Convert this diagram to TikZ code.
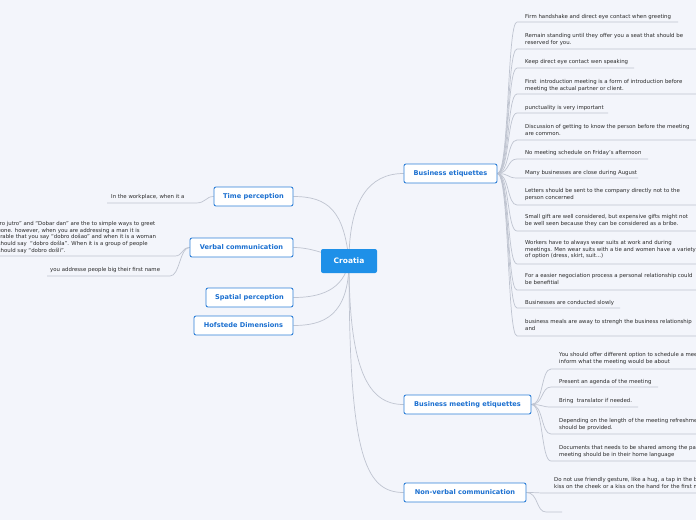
\documentclass[tikz,border=0pt]{standalone}
\usepackage{fontspec}
\setmainfont{DejaVu Sans}
\usetikzlibrary{backgrounds}
\definecolor{bg}{HTML}{F3F5FB}
\definecolor{bblue}{HTML}{2F80D8}
\definecolor{tblue}{HTML}{1A6FD0}
\definecolor{cblue}{HTML}{1E90E8}
\definecolor{lgray}{HTML}{BFC4D0}
\definecolor{ltxt}{HTML}{2A2A2A}
\tikzset{
 branch/.style={draw=bblue, line width=0.9pt, fill=white, rounded corners=2pt, text=tblue, font=\fontsize{6.6}{8}\selectfont\bfseries, minimum height=19pt, inner xsep=6pt},
 center/.style={fill=cblue, rounded corners=2pt, text=white, font=\fontsize{7.5}{9}\selectfont\bfseries, minimum width=56pt, minimum height=24pt},
 leaf/.style={inner sep=0pt, text=ltxt, font=\fontsize{5.4}{6.8}\selectfont, align=left},
 conn/.style={draw=lgray, line width=0.7pt},
}
\newcommand\leafR[7]{% name parent sx uy ex texttop text
 \node[leaf, anchor=north west] (#1) at (#3+8,#6) {#7};
 \coordinate (#1s) at (#3,#4); \coordinate (#1e) at (#5,#4);
 \begin{pgfonlayer}{background}
 \draw[conn] (#2.east) .. controls +(12,0) and +(-10,0) .. (#1s) -- (#1e);
 \end{pgfonlayer}}
\begin{document}
\begin{tikzpicture}[x=1pt,y=-1pt]
\useasboundingbox (0,0) rectangle (696,520);
\begin{pgfonlayer}{background}
\fill[bg] (0,0) rectangle (696,520);
\end{pgfonlayer}
\node[center] (cro) at (349,261) {Croatia};
\node[branch, minimum width=93pt] (be) at (450.5,173.5) {Business etiquettes};
\node[branch, minimum width=79pt] (tp) at (253.5,196.5) {Time perception};
\node[branch, minimum width=103pt] (vc) at (241.5,247.5) {Verbal communication};
\node[branch, minimum width=87pt] (sp) at (249.5,297.5) {Spatial perception};
\node[branch, minimum width=99pt] (hd) at (243.5,325.5) {Hofstede Dimensions};
\node[branch, minimum width=127pt] (bm) at (467.5,404.5) {Business meeting etiquettes};
\node[branch, minimum width=122pt] (nv) at (465,492.5) {Non-verbal communication};
\begin{pgfonlayer}{background}
\draw[conn] (cro.center) .. controls +(0,-60) and +(-35,0) .. (be.west);
\draw[conn] (cro.center) .. controls +(-5,-50) and +(35,0) .. (tp.east);
\draw[conn] (cro.center) .. controls +(-20,-5) and +(20,0) .. (vc.east);
\draw[conn] (cro.center) .. controls +(-5,30) and +(25,0) .. (sp.east);
\draw[conn] (cro.center) .. controls +(0,55) and +(30,0) .. (hd.east);
\draw[conn] (cro.center) .. controls +(0,110) and +(-35,0) .. (bm.west);
\draw[conn] (cro.center) .. controls +(0,190) and +(-40,0) .. (nv.west);
\end{pgfonlayer}
\leafR{l1}{be}{517}{22}{678}{14}{Firm handshake and direct eye contact when greeting}
\leafR{l2}{be}{517}{49}{696}{33}{Remain standing until they offer you a seat that should be\\reserved for you.}
\leafR{l3}{be}{517}{68}{634}{59}{Keep direct eye contact wen speaking}
\leafR{l4}{be}{517}{94}{696}{79}{First\ \ introduction meeting is a form of introduction before\\meeting the actual partner or client.}
\leafR{l5}{be}{517}{113}{608}{105}{punctuality is very important}
\leafR{l6}{be}{517}{140}{696}{124}{Discussion of getting to know the person before the meeting\\are common.}
\leafR{l7}{be}{517}{159}{648}{150}{No meeting schedule on Friday's afternoon}
\leafR{l8}{be}{517}{178}{638}{170}{Many businesses are close during August}
\leafR{l9}{be}{517}{205}{696}{188}{Letters should be sent to the company directly not to the\\person concerned}
\leafR{l10}{be}{517}{231}{696}{214}{Small gift are well considered, but expensive gifts might not\\be well seen because they can be considered as a bribe.}
\leafR{l11}{be}{517}{264}{696}{240}{Workers have to always wear suits at work and during\\meetings. Men wear suits with a tie and women have a variety\\of option (dress, skirt, suit...)}
\leafR{l12}{be}{517}{290}{696}{273}{For a easier negociation process a personal relationship could\\be benefitial}
\leafR{l13}{be}{517}{308}{620}{300}{Businesses are conducted slowly}
\leafR{l14}{be}{517}{336}{696}{319}{business meals are away to strengh the business relationship\\and}
\leafR{m1}{bm}{551}{369}{696}{352}{You should offer different option to schedule a meeting and\\inform what the meeting would be about}
\leafR{m2}{bm}{551}{387}{658}{379}{Present an agenda of the meeting}
\leafR{m3}{bm}{551}{407}{638}{398}{Bring\ \ translator if needed.}
\leafR{m4}{bm}{551}{434}{696}{418}{Depending on the length of the meeting refreshments\\should be provided.}
\leafR{m5}{bm}{551}{461}{696}{445}{Documents that needs to be shared among the participants of the\\meeting should be in their home language}
\leafR{n1}{nv}{546}{493}{696}{477}{Do not use friendly gesture, like a hug, a tap in the back, a\\kiss on the cheek or a kiss on the hand for the first meeting}
\coordinate (n2s) at (546,512); \coordinate (n2e) at (562,512);
\begin{pgfonlayer}{background}
\draw[conn] (nv.east) .. controls +(12,0) and +(-10,0) .. (n2s) -- (n2e);
\end{pgfonlayer}
% left leaves
\node[leaf, anchor=north west] (t1) at (111,194) {In the workplace, when it a};
\coordinate (t1s) at (107,203); \coordinate (t1e) at (196,203);
\node[leaf, anchor=north west] (v1) at (-14,221) {``Dobro jutro'' and ``Dobar dan'' are the to simple ways to greet\\someone. however, when you are addressing a man it is\\preferable that you say ``dobro došao'' and when it is a woman\\you should say\ \ ``dobro došla''. When it is a group of people\\you should say ``dobro došli''.};
\coordinate (v1s) at (0,256); \coordinate (v1e) at (175,256);
\node[leaf, anchor=north west] (v2) at (50,267) {you addresse people big their first name};
\coordinate (v2s) at (47,276); \coordinate (v2e) at (170,276);
\begin{pgfonlayer}{background}
\draw[conn] (t1s) -- (t1e) .. controls +(10,0) and +(-8,0) .. (tp.west);
\draw[conn] (v1s) -- (v1e) .. controls +(8,0) and +(-8,0) .. (vc.west);
\draw[conn] (v2s) -- (v2e) .. controls +(10,0) and +(-10,0) .. (vc.west);
\end{pgfonlayer}
\end{tikzpicture}
\end{document}
